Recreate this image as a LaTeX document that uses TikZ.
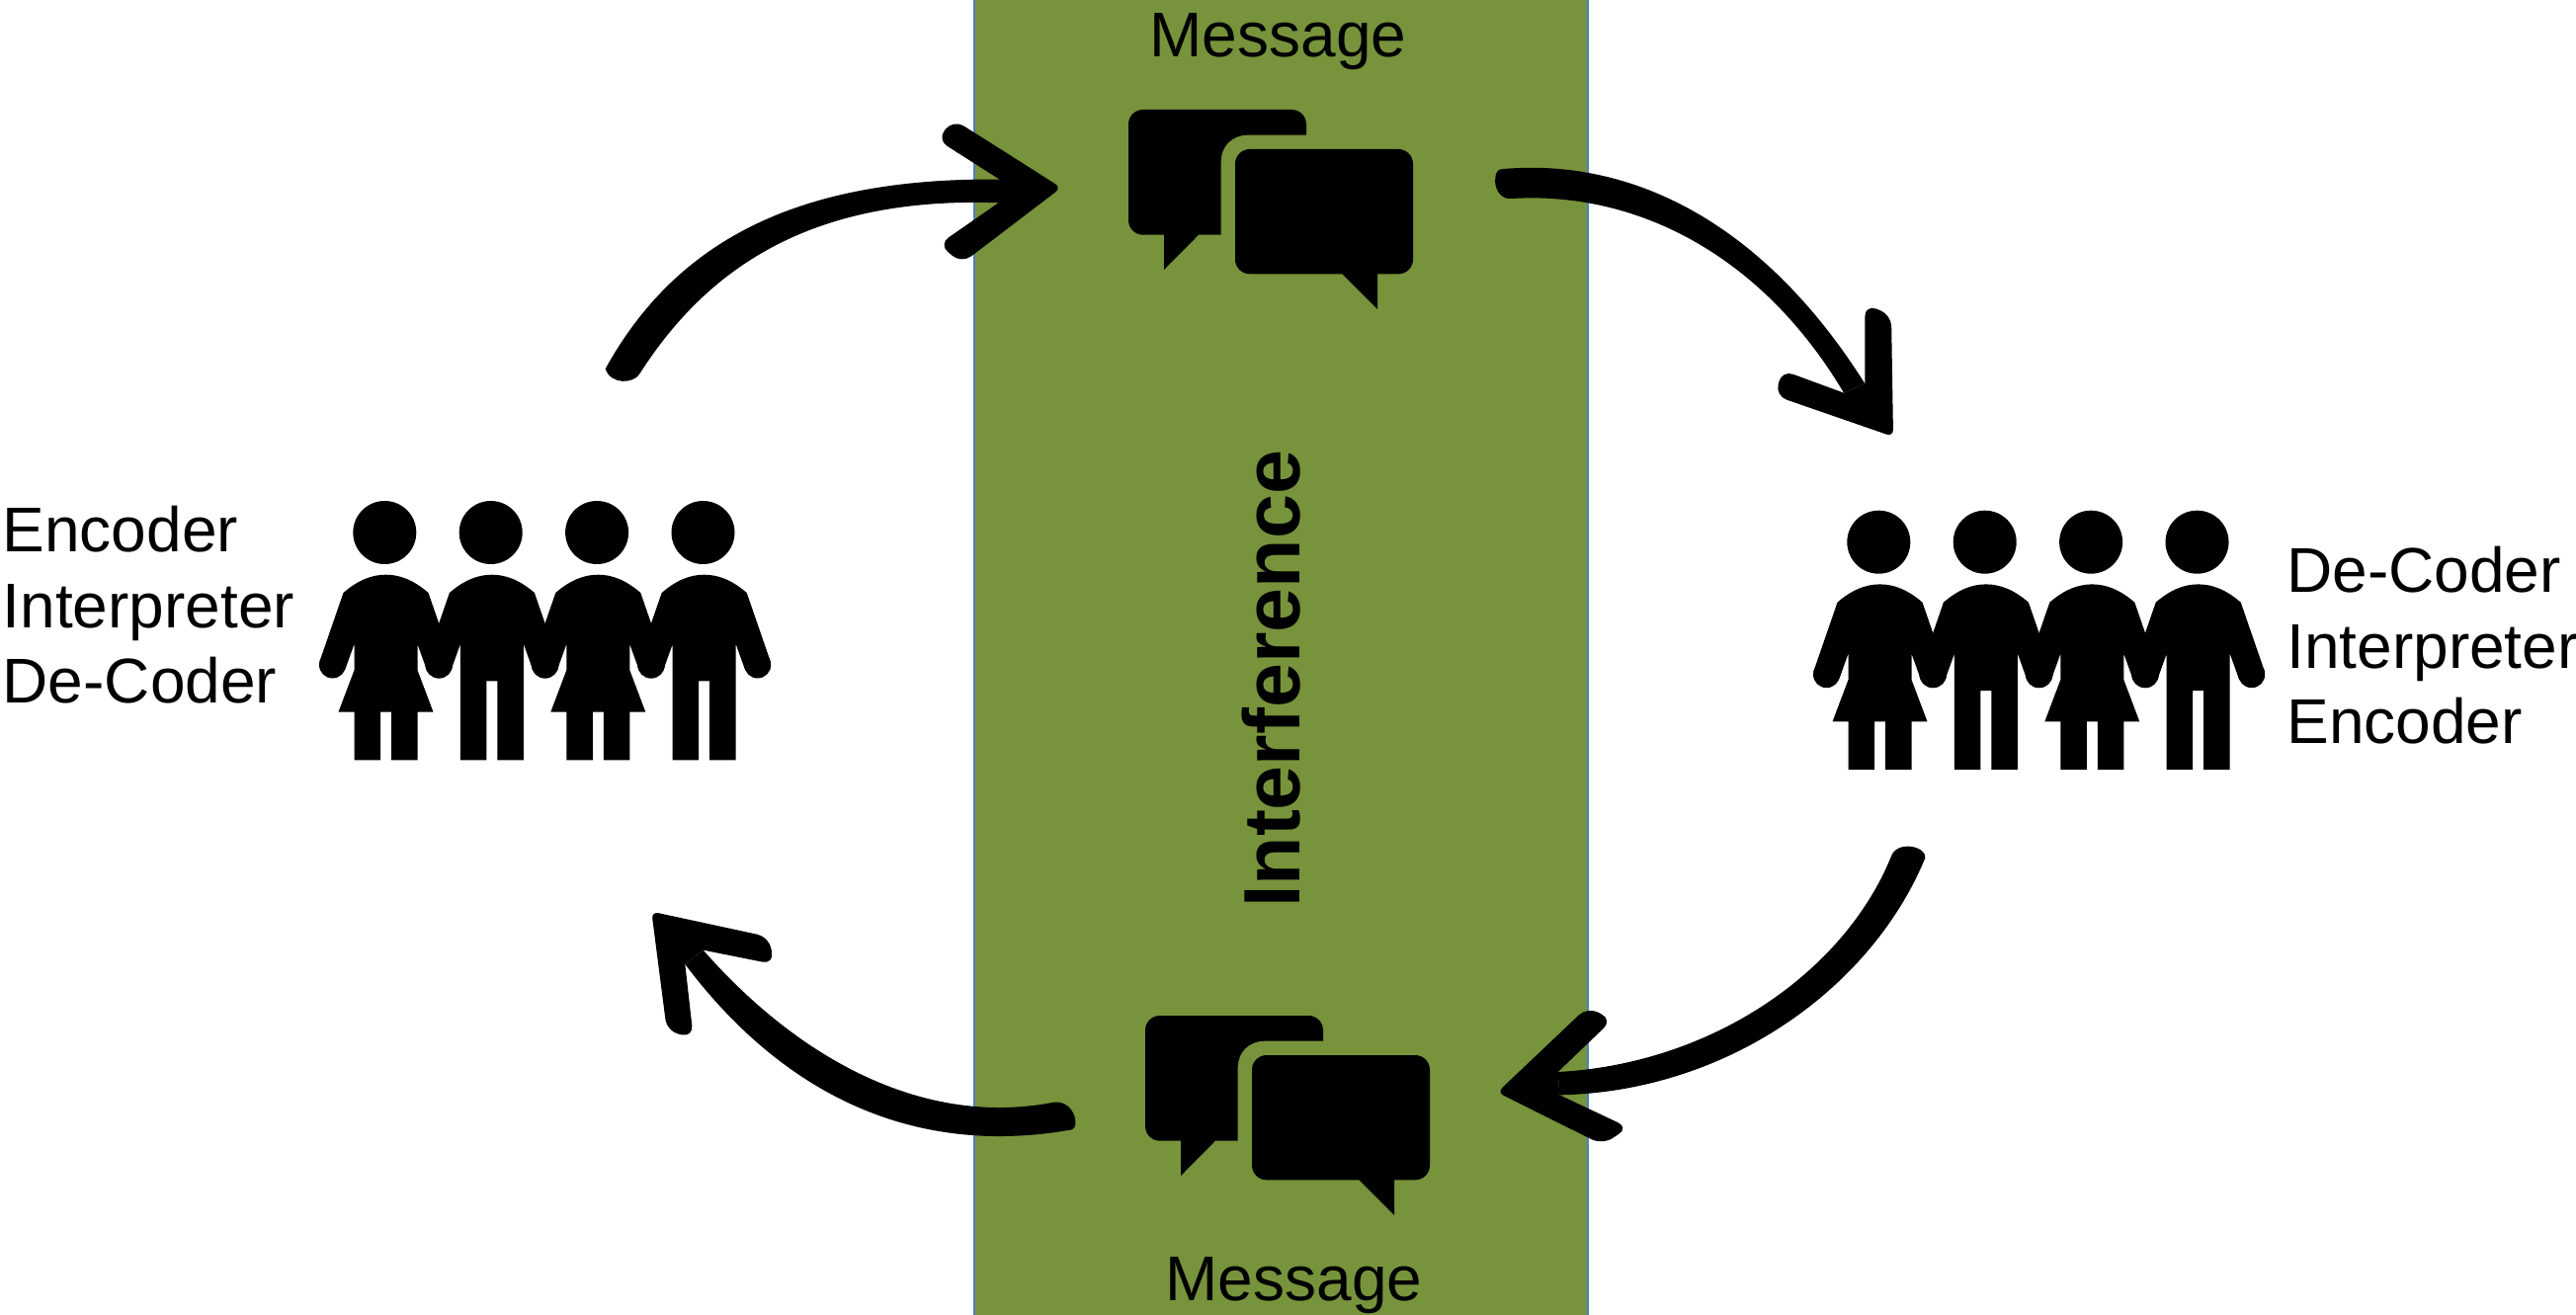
\documentclass[tikz,border=0pt]{standalone}
\usepackage{fontspec}
\setmainfont{Liberation Sans}
\definecolor{bandgreen}{HTML}{77933C}
\definecolor{bandedge}{HTML}{4F81BD}
\newcommand{\bodytop}{(-67.2,131) -- (-43,61) .. controls (-28,48) and (-14,42.7) .. (0,42.7) .. controls (14,42.7) and (28,48) .. (43,61) -- (67.2,131) -- (41,138) -- (32,113)}
\newcommand{\bodyend}{-- (-32,113) -- (-41,138) -- cycle}
\tikzset{
  x=0.01cm, y=-0.01cm,
  labeltext/.style={inner sep=0pt, anchor=base west, font=\fontsize{18.2}{18.2}\selectfont},
  msgtext/.style={inner sep=0pt, anchor=base, font=\fontsize{18.2}{18.2}\selectfont},
  personw/.pic={
    \fill (0,0) circle[radius=32];
    \begin{scope}[shift={(1.2,0)}]
      \fill \bodytop -- (32,139.3) -- (48,181.7) -- (32,181.7) -- (32,230.3) -- (5.5,230.3) -- (5.5,181.7) -- (-5.5,181.7) -- (-5.5,230.3) -- (-32,230.3) -- (-32,181.7) -- (-48,181.7) -- (-32,139.3) \bodyend;
      \fill (-54,134) circle[radius=13.5] (54,134) circle[radius=13.5];
    \end{scope}
  },
  personm/.pic={
    \fill (0,0) circle[radius=32];
    \begin{scope}[shift={(1.2,0)}]
      \fill \bodytop -- (32,230.3) -- (5.5,230.3) -- (5.5,150.3) -- (-5.5,150.3) -- (-5.5,230.3) -- (-32,230.3) \bodyend;
      \fill (-54,134) circle[radius=13.5] (54,134) circle[radius=13.5];
    \end{scope}
  },
  chaticon/.pic={
    \fill[rounded corners=4.2pt] (0,60) -- (0,0) -- (180,0) [sharp corners] -- (180,25.7) -- (120.5,25.7) .. controls (105,25.7) and (93.7,37) .. (93.7,52) -- (93.7,126.7) -- (71,126.7) -- (36,162) -- (36,126.7) [rounded corners=4.2pt] -- (0,126.7) -- cycle;
    \fill[rounded corners=4.2pt] (108,100) -- (108,40) -- (288,40) -- (288,166.3) [sharp corners] -- (252,166.3) -- (252,202) -- (216.5,166.3) [rounded corners=4.2pt] -- (108,166.3) -- cycle;
  },
}
\begin{document}
\begin{tikzpicture}
\useasboundingbox (0,0) rectangle (2607,1331);
% interference band
\path[fill=bandgreen, draw=bandedge, line width=0.02cm] (985.7,-10) rectangle (1606.8,1341);
\node[labeltext, rotate=90, font=\fontsize{23}{23}\selectfont\bfseries] (interference) at (1315,919.6) {Interference};
% messages
\node[msgtext] (msgtop) at (1293.5,57.3) {Message};
\node[msgtext] (msgbottom) at (1309.5,1316.7) {Message};
\pic (chattop) at (1142,111) {chaticon};
\pic (chatbottom) at (1159,1028) {chaticon};
% people, left
\pic (l1) at (389.3,539) {personw};
\pic (l2) at (496.7,539) {personm};
\pic (l3) at (604.1,539) {personw};
\pic (l4) at (711.5,539) {personm};
% people, right
\pic (r1) at (1901.3,548.7) {personw};
\pic (r2) at (2008.7,548.7) {personm};
\pic (r3) at (2116.1,548.7) {personw};
\pic (r4) at (2223.5,548.7) {personm};
% role labels
\node[labeltext] (la) at (2,558.3) {Encoder};
\node[labeltext] (lb) at (2,635) {Interpreter};
\node[labeltext] (lc) at (2,711.7) {De-Coder};
\node[labeltext] (ra) at (2313.6,599.3) {De-Coder};
\node[labeltext] (rb) at (2313.6,676) {Interpreter};
\node[labeltext] (rc) at (2313.6,752.7) {Encoder};
% arrow: left people to top message
\begin{scope}[shift={(590,110)},scale=0.33333]
  \fill (68,790) .. controls (300,370) and (700,205) .. (1290,215) -- (1290,287) .. controls (750,262) and (405,440) .. (172,805) .. controls (155,835) and (85,840) .. (68,790) -- cycle;
  \fill[rounded corners=3.4pt] (1290,137) -- (1125,33) -- (1075,94) [sharp corners] -- (1265,215) -- (1260,287) [rounded corners=3.4pt] -- (1080,412) -- (1150,470) [rounded corners=2pt] -- (1452,240) -- cycle;
\end{scope}
% arrow: top message to right people
\begin{scope}[shift={(1450,130)},scale=0.33333]
  \fill (215,123) .. controls (600,90) and (1000,280) .. (1312,775) -- (1248,803) .. controls (1000,385) and (620,190) .. (240,213) .. controls (205,218) and (185,180) .. (190,150) .. controls (192,128) and (200,124) .. (215,123) -- cycle;
  \fill[rounded corners=2pt] (1395,750) -- (1398,936) [rounded corners=3.4pt] -- (1040,812) -- (1060,734) [sharp corners] -- (1248,803) -- (1312,775) [rounded corners=3.4pt] -- (1312,535) -- (1392,565) -- cycle;
\end{scope}
% arrow: right people to bottom message
\begin{scope}[shift={(1500,840)},scale=0.33333]
  \fill (1242,80) .. controls (1100,430) and (700,710) .. (230,735) -- (235,805) .. controls (750,795) and (1185,475) .. (1345,85) .. controls (1350,50) and (1260,30) .. (1242,80) -- cycle;
  \fill[rounded corners=3.4pt] (180,670) -- (320,537) -- (395,577) [sharp corners] -- (230,735) -- (235,805) [rounded corners=3.4pt] -- (445,904) -- (365,956) [rounded corners=2pt] -- (46,797) -- cycle;
\end{scope}
% arrow: bottom message to left people
\begin{scope}[shift={(600,900)},scale=0.33333]
  \fill (1400,647) .. controls (1000,725) and (620,510) .. (335,185) -- (280,228) .. controls (560,600) and (950,820) .. (1455,730) .. controls (1480,720) and (1460,640) .. (1400,647) -- cycle;
  \fill[rounded corners=3.4pt] (350,105) -- (535,145) -- (550,228) [sharp corners] -- (335,185) -- (280,228) [rounded corners=3.4pt] -- (305,450) -- (225,432) [rounded corners=2pt] -- (178,68) -- cycle;
\end{scope}
\end{tikzpicture}
\end{document}
